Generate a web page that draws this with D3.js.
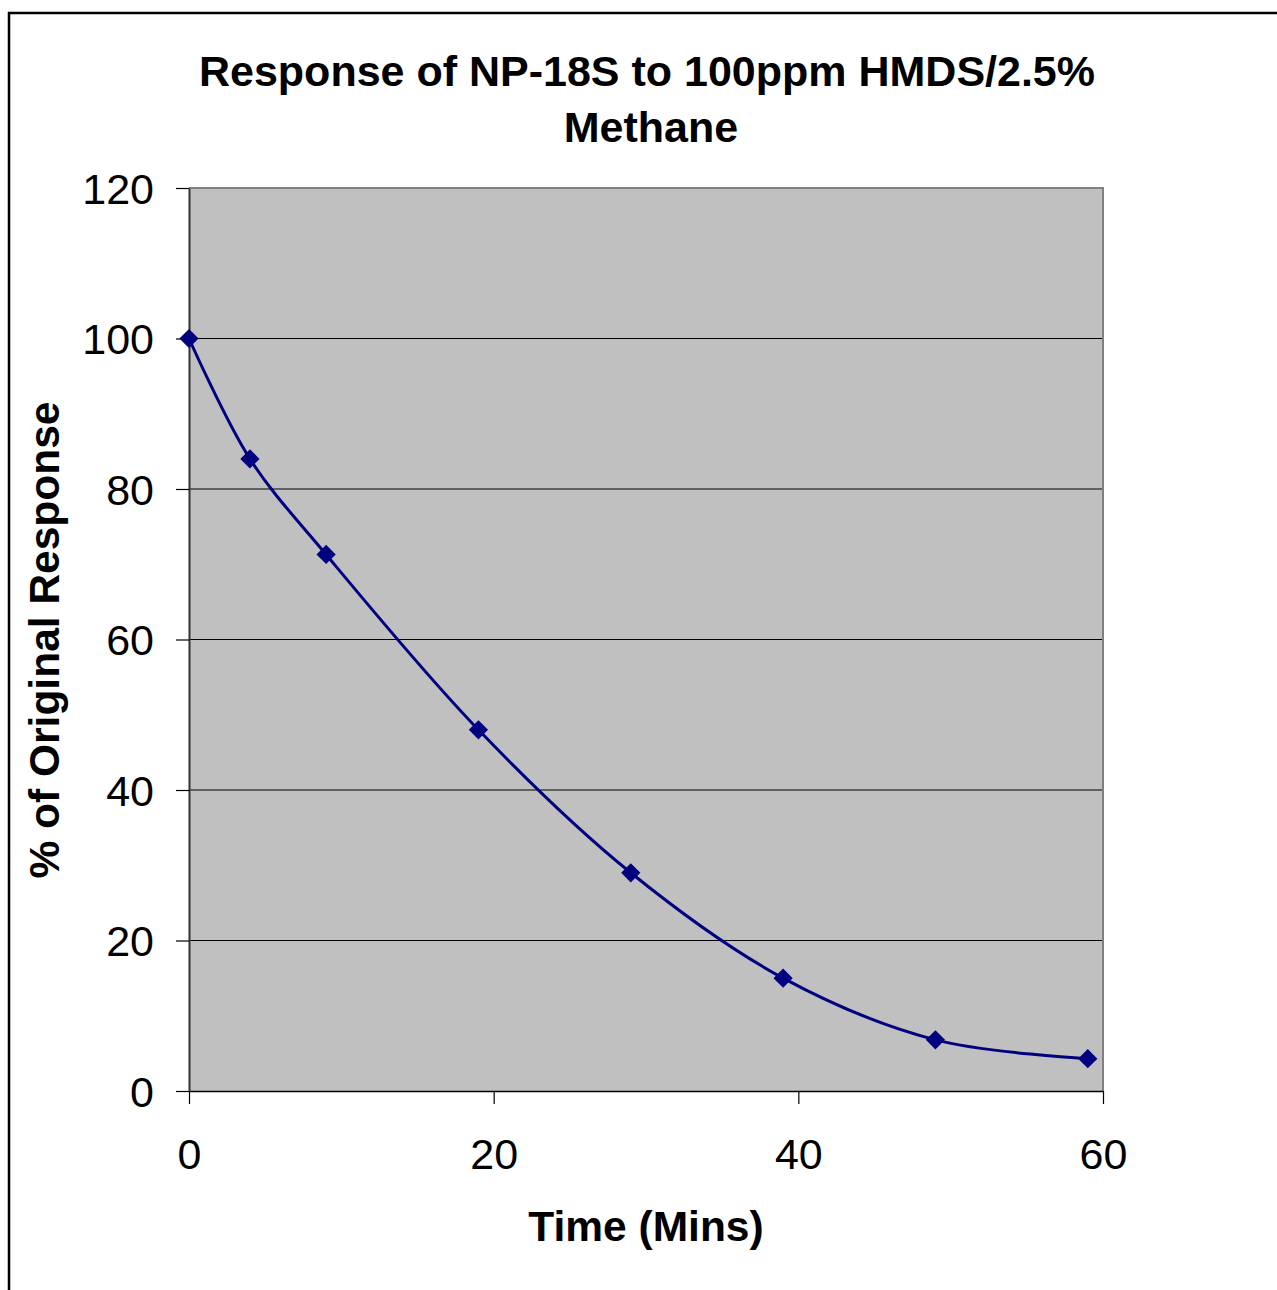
<!DOCTYPE html>
<html><head><meta charset="utf-8">
<script src="https://cdn.jsdelivr.net/npm/d3@7"></script>
<style>html,body{margin:0;padding:0;background:#fff;}svg{display:block;}</style>
</head><body>
<script>
const timeMins = [0, 4, 9, 19, 29, 39, 49, 59];
const responsePct = [100, 84, 71.3, 48, 29, 15, 6.8, 4.3];
const xTicks = [0, 20, 40, 60];
const yTicks = [0, 20, 40, 60, 80, 100, 120];
const titleLines = ["Response of NP-18S to 100ppm HMDS/2.5%", "Methane"];
const xTitle = "Time (Mins)";
const yTitle = "% of Original Response";

const W = 1277, H = 1290;
const svg = d3.select("body").append("svg").attr("width", W).attr("height", H);
const font = "'Liberation Sans', Arial, sans-serif";

// outer frame
svg.append("rect").attr("x", 9).attr("y", 13).attr("width", 1300).attr("height", 1300)
  .attr("fill", "none").attr("stroke", "#000").attr("stroke-width", 2.5);

const L = 189, R = 1103, T = 188, B = 1091;
const x = d3.scaleLinear().domain([0, 60]).range([L, R]);
const y = d3.scaleLinear().domain([0, 120]).range([B, T]);

svg.append("rect").attr("x", L).attr("y", T).attr("width", R - L).attr("height", B - T).attr("fill", "#c0c0c0");

// gridlines
svg.append("g").selectAll("line").data(yTicks.filter(d => d > 0 && d < 120)).join("line")
  .attr("x1", L).attr("x2", R).attr("y1", d => y(d)).attr("y2", d => y(d))
  .attr("stroke", "#000").attr("stroke-width", 1.2);

// plot border top/right (gray)
svg.append("path").attr("d", `M${L},${T}H${R}V${B}`).attr("fill", "none").attr("stroke", "#808080").attr("stroke-width", 2);

// axes
const xAxis = d3.axisBottom(x).tickValues(xTicks).tickSize(13).tickPadding(34).tickSizeOuter(0);
const gx = svg.append("g").attr("transform", `translate(0,${B})`).call(xAxis);
gx.select(".domain").attr("stroke", "#000").attr("stroke-width", 1.5);
gx.selectAll(".tick line").attr("stroke", "#000").attr("stroke-width", 1.2);
gx.selectAll("text").attr("font-family", font).attr("font-size", 43).attr("fill", "#000").attr("dy", "0.71em");

const yAxis = d3.axisLeft(y).tickValues(yTicks).tickSize(13).tickPadding(22).tickSizeOuter(0);
const gy = svg.append("g").attr("transform", `translate(${L},0)`).call(yAxis);
gy.select(".domain").attr("stroke", "#333").attr("stroke-width", 2);
gy.selectAll(".tick line").attr("stroke", "#000").attr("stroke-width", 1.2);
gy.selectAll("text").attr("font-family", font).attr("font-size", 43).attr("fill", "#000").attr("dy", "0.36em");

// line
const data = timeMins.map((t, i) => ({t, v: responsePct[i]}));
const line = d3.line().x(d => x(d.t)).y(d => y(d.v)).curve(d3.curveCatmullRom.alpha(0.5));
svg.append("path").datum(data).attr("d", line).attr("fill", "none").attr("stroke", "#000080").attr("stroke-width", 3);

// markers
svg.append("g").selectAll("path").data(data).join("path")
  .attr("transform", d => `translate(${x(d.t)},${y(d.v)}) rotate(45)`)
  .attr("d", "M-6.8,-6.8H6.8V6.8H-6.8Z").attr("fill", "#000080");

// title
svg.append("g").selectAll("text").data(titleLines).join("text")
  .attr("x", (d, i) => i === 0 ? 647 : 651).attr("y", (d, i) => 86 + i * 56).attr("text-anchor", "middle")
  .attr("font-family", font).attr("font-weight", "bold").attr("font-size", 43).attr("fill", "#000").text(d => d);

svg.append("text").attr("x", 646).attr("y", 1241).attr("text-anchor", "middle")
  .attr("font-family", font).attr("font-weight", "bold").attr("font-size", 42.5).text(xTitle);

svg.append("text").attr("transform", "translate(59,640) rotate(-90)").attr("text-anchor", "middle")
  .attr("font-family", font).attr("font-weight", "bold").attr("font-size", 42.5).text(yTitle);
</script>
</body></html>
